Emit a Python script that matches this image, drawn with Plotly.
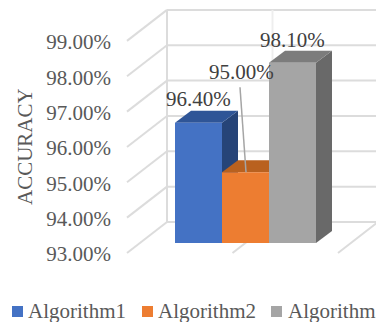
import plotly.graph_objects as go

# Chart content
algorithms = ["Algorithm1", "Algorithm2", "Algorithm3"]
accuracy = [96.4, 95.0, 98.1]
value_labels = ["96.40%", "95.00%", "98.10%"]
tick_values = [93, 94, 95, 96, 97, 98, 99]
tick_labels = ["93.00%", "94.00%", "95.00%", "96.00%", "97.00%", "98.00%", "99.00%"]
axis_title = "ACCURACY"

# Colours per series: front, top and side faces
front_colors = ["#4472c4", "#ed7d31", "#a5a5a5"]
top_colors = ["#2f5597", "#b9611f", "#7c7c7c"]
side_colors = ["#264478", "#9e5324", "#696969"]

# Plot geometry: one x unit is a bar width, one y unit is one percentage point
W, H = 376, 322
PX_X, PX_Y = 47.0, 35.35
X0_PX, Y93_PX = 198.5, 243.0
x_range = [-X0_PX / PX_X, (W - X0_PX) / PX_X]
y_range = [93 - (H - Y93_PX) / PX_Y, 93 + Y93_PX / PX_Y]

BASE = 93
BAR_DX, BAR_DY = 16 / PX_X, 12 / PX_Y      # depth of a bar
WALL_X = (167 - X0_PX) / PX_X              # back wall, left edge
WALL_LIFT = 21 / PX_Y                      # back wall above the bar baseline
FLOOR_DX, FLOOR_DY = 40 / PX_X, 31 / PX_Y  # depth of the floor
FLOOR_SPACING = 105.5 / PX_X
GRID = "#dcdcdc"

fig = go.Figure()


def poly(xs, ys, color):
    fig.add_trace(go.Scatter(x=xs + xs[:1], y=ys + ys[:1], mode="lines", fill="toself",
                             fillcolor=color, line=dict(color=color, width=0),
                             hoverinfo="skip", showlegend=False))


def line(xs, ys, color=GRID, width=2):
    fig.add_trace(go.Scatter(x=xs, y=ys, mode="lines", line=dict(color=color, width=width),
                             hoverinfo="skip", showlegend=False))


# Back wall gridlines and their returns along the left wall
for v in tick_values:
    y = v + WALL_LIFT
    line([WALL_X, x_range[1] + 1], [y, y])
    line([WALL_X, WALL_X - FLOOR_DX], [y, y - FLOOR_DY])

# Category separators on the wall and floor
wall_top = max(tick_values) + WALL_LIFT
wall_bottom = BASE + WALL_LIFT
line([WALL_X, WALL_X], [wall_bottom, wall_top])
line([WALL_X + FLOOR_SPACING] * 2, [wall_bottom, wall_top], color="#eeeeee")
for k in (1, 2):
    bx = WALL_X + k * FLOOR_SPACING
    line([bx, bx - FLOOR_DX], [wall_bottom, wall_bottom - FLOOR_DY])

# Bars, drawn left to right so that nearer faces cover farther ones
for i, v in enumerate(accuracy):
    l, r = i - 0.5, i + 0.5
    poly([r, r + BAR_DX, r + BAR_DX, r], [BASE, BASE + BAR_DY, v + BAR_DY, v], side_colors[i])
    poly([l, r, r + BAR_DX, l + BAR_DX], [v, v, v + BAR_DY, v + BAR_DY], top_colors[i])
    poly([l, r, r, l], [BASE, BASE, v, v], front_colors[i])

# Leader line of the middle label
line([1 - 5.5 / PX_X, 1 + 0.5 / PX_X], [accuracy[1] + 85 / PX_Y, accuracy[1]], color="#a5a5a5", width=1.5)

# Invisible trace carrying the percentage axis, which sits on the front plane
fig.add_trace(go.Scatter(x=[0], y=[BASE], yaxis="y2", mode="markers", opacity=0,
                         hoverinfo="skip", showlegend=False))

TEXT = "Liberation Serif"
shifts = [(0, 24), (-4.5, 100), (0, 23)]
annotations = []
for i, (v, label) in enumerate(zip(accuracy, value_labels)):
    annotations.append(dict(x=i, y=v, text=label, showarrow=False, xanchor="center", yanchor="middle",
                            xshift=shifts[i][0], yshift=shifts[i][1],
                            font=dict(family=TEXT, size=21, color="#404040")))

annotations.append(dict(xref="paper", yref="paper", x=25 / W, y=1 - 147 / H, text=axis_title, textangle=-90,
                        showarrow=False, xanchor="center", yanchor="middle",
                        font=dict(family=TEXT, size=21, color="#595959")))

# Legend row, running off the right edge of the page
legend_box_x = [12, 142, 271]
legend_text_x = [26, 156, 286]
shapes = []
for name, color, bx, tx in zip(algorithms, front_colors, legend_box_x, legend_text_x):
    shapes.append(dict(type="rect", xref="paper", yref="paper", x0=bx / W, x1=(bx + 11) / W,
                       y0=1 - 317 / H, y1=1 - 306 / H, fillcolor=color, line=dict(width=0)))
    annotations.append(dict(xref="paper", yref="paper", x=tx / W, y=1 - 311 / H, text=name, showarrow=False,
                            xanchor="left", yanchor="middle", xshift=0,
                            font=dict(family=TEXT, size=21, color="#595959")))

fig.update_layout(
    width=W, height=H, margin=dict(l=0, r=0, t=0, b=0, autoexpand=False),
    paper_bgcolor="white", plot_bgcolor="white", showlegend=False,
    xaxis=dict(range=x_range, visible=False, fixedrange=True),
    yaxis=dict(range=y_range, visible=False, fixedrange=True),
    yaxis2=dict(range=[y_range[0] + 11 / PX_Y, y_range[1] + 11 / PX_Y], overlaying="y", anchor="free",
                position=111 / W, side="left", tickvals=tick_values, ticktext=tick_labels,
                showgrid=False, zeroline=False, showline=False, ticks="",
                tickfont=dict(family=TEXT, size=21, color="#595959"), fixedrange=True),
    annotations=annotations, shapes=shapes,
)

fig.write_html("out.html", config=dict(displayModeBar=False))
